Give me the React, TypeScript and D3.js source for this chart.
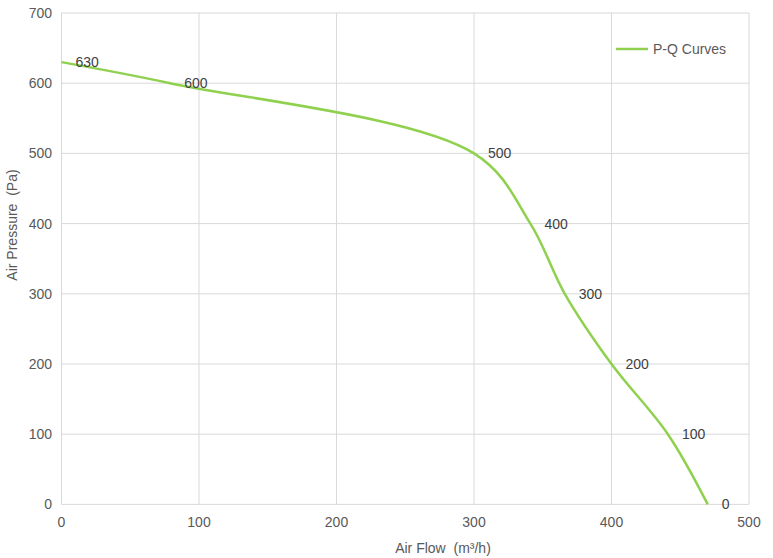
import React from "react";
import * as d3 from "d3";

const flow = [0, 79, 300, 341, 366, 400, 441, 470];
const pressure = [630, 600, 500, 400, 300, 200, 100, 0];
const pointLabels = ["630", "600", "500", "400", "300", "200", "100", "0"];
const xTicks = [0, 100, 200, 300, 400, 500];
const yTicks = [0, 100, 200, 300, 400, 500, 600, 700];
const seriesName = "P-Q Curves";
const xTitle = "Air Flow  (m³/h)";
const yTitle = "Air Pressure  (Pa)";

const W = 773;
const H = 558;
const left = 61.5;
const right = 749;
const top = 13;
const bottom = 504.4;
const FONT = "'Liberation Sans', Arial, Helvetica, sans-serif";

export default function App() {
  const x = d3.scaleLinear().domain([0, 500]).range([left, right]);
  const y = d3.scaleLinear().domain([0, 700]).range([bottom, top]);
  const pts: [number, number][] = flow.map((f, i) => [f, pressure[i]]);
  const line = d3
    .line<[number, number]>()
    .x((d) => x(d[0]))
    .y((d) => y(d[1]))
    .curve(d3.curveCatmullRom.alpha(0.5));

  return (
    <svg
      width={W}
      height={H}
      style={{ position: "absolute", left: 0, top: 0, background: "#fff" }}
      fontFamily={FONT}
    >
      {yTicks.map((t) => (
        <g key={"y" + t}>
          <line x1={left} x2={right} y1={y(t)} y2={y(t)} stroke="#d9d9d9" strokeWidth={1} />
          <text x={52} y={y(t)} dy="0.35em" textAnchor="end" fontSize={14} fill="#595959">
            {t}
          </text>
        </g>
      ))}
      {xTicks.map((t) => (
        <g key={"x" + t}>
          <line x1={x(t)} x2={x(t)} y1={top} y2={bottom} stroke="#d9d9d9" strokeWidth={1} />
          <text x={x(t)} y={522.5} dy="0.35em" textAnchor="middle" fontSize={14} fill="#595959">
            {t}
          </text>
        </g>
      ))}
      <path d={line(pts) || ""} fill="none" stroke="#8fd14f" strokeWidth={2.5} />
      {pts.map((p, i) => (
        <text
          key={"l" + i}
          x={x(p[0]) + 14}
          y={y(p[1])}
          dy="0.35em"
          fontSize={14}
          fill="#404040"
        >
          {pointLabels[i]}
        </text>
      ))}
      <line x1={616} x2={648} y1={49} y2={49} stroke="#8fd14f" strokeWidth={2.5} />
      <text x={653} y={49} dy="0.35em" fontSize={14} fill="#595959">
        {seriesName}
      </text>
      <text
        x={443}
        y={548}
        dy="0.35em"
        textAnchor="middle"
        fontSize={14}
        fill="#595959"
        style={{ whiteSpace: "pre" }}
      >
        {xTitle}
      </text>
      <text
        transform={`translate(12,225) rotate(-90)`}
        dy="0.35em"
        textAnchor="middle"
        fontSize={14}
        fill="#595959"
        style={{ whiteSpace: "pre" }}
      >
        {yTitle}
      </text>
    </svg>
  );
}
